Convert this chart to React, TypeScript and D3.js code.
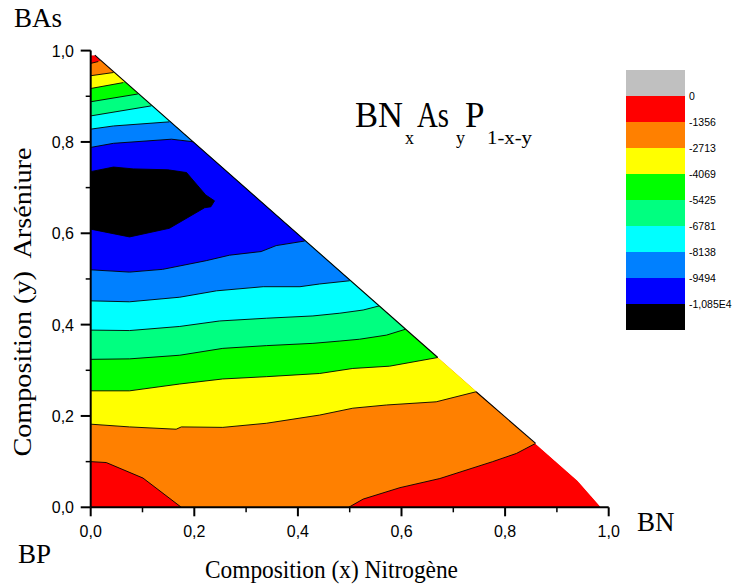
import React from "react";
import * as d3 from "d3";

type P = [number, number];

const W = 737;
const H = 587;

// Legend levels and colours (top = highest)
const levelLabels = ["0", "-1356", "-2713", "-4069", "-5425", "-6781", "-8138", "-9494", "-1,085E4"];
const bandColors = ["#C0C0C0", "#FF0000", "#FF8000", "#FFFF00", "#00FF00", "#00FF80", "#00FFFF", "#0080FF", "#0000FF", "#000000"];

const majorTicks = [0, 0.2, 0.4, 0.6, 0.8, 1.0];
const minorTicks = [0.1, 0.3, 0.5, 0.7, 0.9];

// Data domain (triangle of compositions x + y <= 1)
const domainEdge: P[] = [[0, 0], [0.985, 0], [0.94, 0.058], [0.008, 0.99], [0, 0.99]];

// Contour lines (x, y), lower branch then upper branch
const c1356LowLeft: P[] = [[0, 0.100], [0.03, 0.098], [0.101, 0.064], [0.175, 0]];
const c1356LowRight: P[] = [[0.498, 0], [0.526, 0.018], [0.597, 0.043], [0.674, 0.063], [0.776, 0.100], [0.822, 0.118], [0.859, 0.140]];
const c1356Up: P[] = [[0, 0.972], [0.0145, 0.976]];

const c2713Low: P[] = [[0, 0.182], [0.075, 0.176], [0.165, 0.171], [0.175, 0.176], [0.255, 0.175], [0.339, 0.184], [0.442, 0.202], [0.506, 0.217], [0.571, 0.224], [0.667, 0.231], [0.744, 0.253]];
const c2713Up: P[] = [[0, 0.945], [0.044, 0.952]];

const c4069Low: P[] = [[0, 0.255], [0.075, 0.255], [0.172, 0.270], [0.255, 0.281], [0.339, 0.286], [0.442, 0.293], [0.506, 0.304], [0.577, 0.309], [0.670, 0.328]];
const c4069Up: P[] = [[0, 0.917], [0.063, 0.930]];

const c5425Low: P[] = [[0, 0.324], [0.075, 0.325], [0.172, 0.333], [0.255, 0.348], [0.339, 0.354], [0.429, 0.359], [0.481, 0.364], [0.519, 0.368], [0.571, 0.377], [0.608, 0.390]];
const c5425Up: P[] = [[0, 0.888], [0.091, 0.905]];

const c6781Low: P[] = [[0, 0.388], [0.075, 0.387], [0.172, 0.396], [0.249, 0.408], [0.339, 0.414], [0.429, 0.419], [0.481, 0.425], [0.526, 0.432], [0.557, 0.441]];
const c6781Up: P[] = [[0, 0.857], [0.117, 0.879]];

const c8138Low: P[] = [[0, 0.452], [0.075, 0.450], [0.172, 0.460], [0.243, 0.474], [0.333, 0.483], [0.404, 0.483], [0.442, 0.489], [0.50, 0.496]];
const c8138Up: P[] = [[0, 0.828], [0.044, 0.835], [0.152, 0.844]];

const c9494Low: P[] = [[0, 0.520], [0.075, 0.515], [0.139, 0.521], [0.223, 0.540], [0.268, 0.552], [0.329, 0.560], [0.358, 0.573], [0.413, 0.583]];
const c9494Up: P[] = [[0, 0.788], [0.044, 0.797], [0.156, 0.806], [0.201, 0.800]];

const c10850Island: P[] = [[-0.02, 0.735], [0, 0.735], [0.044, 0.745], [0.082, 0.741], [0.149, 0.739], [0.185, 0.733], [0.222, 0.684], [0.239, 0.671], [0.232, 0.658], [0.220, 0.656], [0.152, 0.611], [0.075, 0.592], [0, 0.609], [-0.02, 0.609]];

// Hypotenuse segments that carry a dark outline
const edgeDark1: P[] = [[0.008, 0.99], [0.670, 0.328]];
const edgeDark2: P[] = [[0.744, 0.253], [0.859, 0.140]];

const xS = d3.scaleLinear().domain([0, 1]).range([90.7, 608.7]);
const yS = d3.scaleLinear().domain([0, 1]).range([507.3, 50.6]);
const line = d3.line<P>().x((d) => xS(d[0])).y((d) => yS(d[1]));

const OUT: P = [1.6, 1.6];

function band(low: P[], up: P[]): P[] {
  const upR = [...up].reverse();
  return [
    [-0.1, low[0][1]],
    ...low,
    OUT,
    ...upR,
    [-0.1, up[0][1]],
  ];
}

const region1: P[] = [
  [-0.1, c1356LowLeft[0][1]],
  ...c1356LowLeft,
  [0.175, -0.1],
  [0.498, -0.1],
  ...c1356LowRight,
  OUT,
  ...[...c1356Up].reverse(),
  [-0.1, c1356Up[0][1]],
];

const regions: { pts: P[]; color: string }[] = [
  { pts: region1, color: bandColors[2] },
  { pts: band(c2713Low, c2713Up), color: bandColors[3] },
  { pts: band(c4069Low, c4069Up), color: bandColors[4] },
  { pts: band(c5425Low, c5425Up), color: bandColors[5] },
  { pts: band(c6781Low, c6781Up), color: bandColors[6] },
  { pts: band(c8138Low, c8138Up), color: bandColors[7] },
  { pts: band(c9494Low, c9494Up), color: bandColors[8] },
  { pts: c10850Island, color: bandColors[9] },
];

const contourLines: P[][] = [
  c1356LowLeft, c1356LowRight, c1356Up,
  c2713Low, c2713Up, c4069Low, c4069Up, c5425Low, c5425Up,
  c6781Low, c6781Up, c8138Low, c8138Up, c9494Low, c9494Up,
];

const fmt = (v: number) => v.toFixed(1).replace(".", ",");

const serif = "'Liberation Serif', 'Times New Roman', serif";
const sans = "'Liberation Sans', Arial, sans-serif";

export default function App() {
  const legendX = 626;
  const legendTop = 70;
  const legendH = 26;
  const legendW = 59;
  return (
    <svg width={W} height={H} style={{ position: "absolute", left: 0, top: 0, background: "#fff" }}>
      <defs>
        <clipPath id="tri">
          <path d={line(domainEdge) + "Z"} />
        </clipPath>
      </defs>
      <g clipPath="url(#tri)">
        <path d={line(domainEdge) + "Z"} fill={bandColors[1]} />
        {regions.map((r, i) => (
          <path key={i} d={line(r.pts) + "Z"} fill={r.color} />
        ))}
        {contourLines.map((c, i) => (
          <path key={i} d={line(c) ?? ""} fill="none" stroke="#000" strokeWidth={0.9} />
        ))}
        <path d={line(c10850Island) + "Z"} fill="none" stroke="#000" strokeWidth={0.9} />
      </g>
      <path d={line(edgeDark1) ?? ""} stroke="#000" strokeWidth={1.1} fill="none" />
      <path d={line(edgeDark2) ?? ""} stroke="#000" strokeWidth={1.1} fill="none" />

      {/* axes */}
      <line x1={xS(0)} x2={xS(1)} y1={yS(0)} y2={yS(0)} stroke="#000" strokeWidth={2} />
      <line x1={xS(0)} x2={xS(0)} y1={yS(0)} y2={yS(1)} stroke="#000" strokeWidth={2} />
      {majorTicks.map((t) => (
        <g key={"xm" + t}>
          <line x1={xS(t)} x2={xS(t)} y1={yS(0)} y2={yS(0) + 9} stroke="#000" strokeWidth={2} />
          <text x={xS(t)} y={537} textAnchor="middle" fontFamily={sans} fontSize={16}>{fmt(t)}</text>
        </g>
      ))}
      {minorTicks.map((t) => (
        <line key={"xn" + t} x1={xS(t)} x2={xS(t)} y1={yS(0)} y2={yS(0) + 5} stroke="#000" strokeWidth={1.5} />
      ))}
      {majorTicks.map((t) => (
        <g key={"ym" + t}>
          <line x1={xS(0)} x2={xS(0) - 10} y1={yS(t)} y2={yS(t)} stroke="#000" strokeWidth={2} />
          <text x={74} y={yS(t) + 6} textAnchor="end" fontFamily={sans} fontSize={16}>{fmt(t)}</text>
        </g>
      ))}
      {minorTicks.map((t) => (
        <line key={"yn" + t} x1={xS(0)} x2={xS(0) - 5} y1={yS(t)} y2={yS(t)} stroke="#000" strokeWidth={1.5} />
      ))}

      {/* axis titles */}
      <text x={205} y={578} fontFamily={serif} fontSize={25} textLength={253} lengthAdjust="spacingAndGlyphs">
        Composition (x) Nitrogène
      </text>
      <text
        transform={`translate(31,302) rotate(-90)`}
        textAnchor="middle"
        fontFamily={serif}
        fontSize={25}
        textLength={309}
        lengthAdjust="spacingAndGlyphs"
        style={{ whiteSpace: "pre" }}
      >
        {"Composition (y)  Arséniure"}
      </text>

      {/* corner labels */}
      <text x={14} y={27} fontFamily={serif} fontSize={27}>BAs</text>
      <text x={18} y={563} fontFamily={serif} fontSize={27}>BP</text>
      <text x={637} y={531} fontFamily={serif} fontSize={27}>BN</text>

      {/* title */}
      <text x={355} y={127} fontFamily={serif} fontSize={35} textLength={48} lengthAdjust="spacingAndGlyphs">BN</text>
      <text x={405} y={143.5} fontFamily={serif} fontSize={18}>x</text>
      <text x={417} y={127} fontFamily={serif} fontSize={35} textLength={32} lengthAdjust="spacingAndGlyphs">As</text>
      <text x={456} y={143.5} fontFamily={serif} fontSize={18}>y</text>
      <text x={465} y={127} fontFamily={serif} fontSize={35}>P</text>
      <text x={487} y={143.5} fontFamily={serif} fontSize={18} textLength={45} lengthAdjust="spacingAndGlyphs">1-x-y</text>

      {/* legend */}
      {bandColors.map((c, i) => (
        <rect key={"lg" + i} x={legendX} y={legendTop + i * legendH} width={legendW} height={legendH} fill={c} />
      ))}
      {levelLabels.map((l, i) => (
        <text key={"ll" + i} x={689} y={legendTop + (i + 1) * legendH + 4} fontFamily={sans} fontSize={10.5}>
          {l}
        </text>
      ))}
    </svg>
  );
}
